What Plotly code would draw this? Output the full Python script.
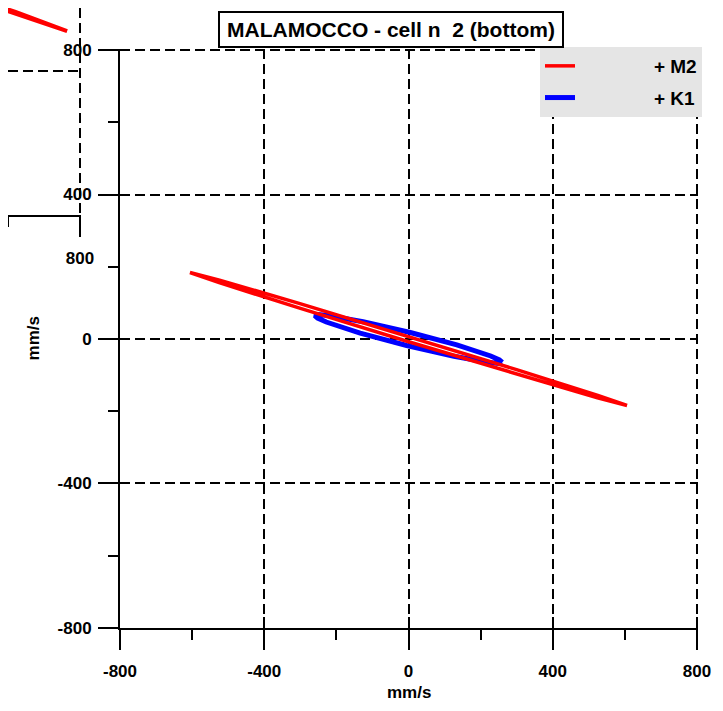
import plotly.graph_objects as go

# ---------------- data (mm/s) ----------------
m2_u = [606, 525, 304, 2, -301, -524, -606, -525, -304, -2, 301, 524, 606]
m2_v = [-184, -156, -86, 7, 98, 163, 184, 156, 86, -7, -98, -163, -184]

k1_u = [260, 252, 228, 134, 5, -126, -223, -250, -260, -252, -228, -134, -5, 126, 223, 250, 260]
k1_v = [-65, -58, -47, -16, 18, 48, 65, 68, 65, 58, 47, 16, -18, -48, -65, -68, -65]

# partially visible neighbouring panel (top-left corner of the picture)
frag_u = [480, 620, 764, 620, 480]
frag_v = [-190, -238, -291, -244, -196]

ticks_major = [-800, -400, 0, 400, 800]
tick_labels = ["-800", "-400", "0", "400", "800"]

title_text = "MALAMOCCO - cell n\u00a0 2 (bottom)"
names = ["+ M2", "+ K1"]
axis_title = "mm/s"

# ---------------- style ----------------
OFF = 8                      # page body margin of the browser
W, H = 723 - OFF, 711 - OFF
SANS = "Liberation Sans, Arial, sans-serif"
tickfont = dict(family=SANS, size=17, color="black", weight="bold")
GRID = dict(showgrid=True, gridcolor="black", gridwidth=2, griddash="10px,5px", zeroline=False)

SX = 577 / 1600.0            # px per unit (x)
SY = 578 / 1600.0            # px per unit (y)
EXT = 4                      # tiny range extension so the edge grid lines are kept

px_l = 120 - OFF
px_r = 697 - OFF + EXT * SX
px_b = 628 - OFF
px_t = 50 - OFF - EXT * SY
xdom = [px_l / W, px_r / W]
ydom = [1 - px_b / H, 1 - px_t / H]
RANGE = [-800, 800 + EXT]

# fragment geometry
f_left_val = 599
f_right_px = (80 - OFF) + EXT * SX
f_xdom = [0, f_right_px / W]
f_xrange = [f_left_val, 800 + EXT]
f_bottom_px = 215 - OFF
f_ydom = [1 - f_bottom_px / H, 1]
f_yrange = [-800, -800 + f_bottom_px / SY]

fig = go.Figure()

fig.add_trace(go.Scatter(x=k1_u, y=k1_v, mode="lines", name="\u00a0" * 14 + names[1],
                         line=dict(color="#0000ff", width=5), legendrank=2,
                         legendgroup="k1"))
fig.add_trace(go.Scatter(x=m2_u, y=m2_v, mode="lines", name="\u00a0" * 14 + names[0],
                         line=dict(color="#ff0000", width=3.5), legendrank=1,
                         legendgroup="m2"))
fig.add_trace(go.Scatter(x=frag_u, y=frag_v, mode="lines", xaxis="x2", yaxis="y2",
                         line=dict(color="#ff0000", width=4), showlegend=False,
                         hoverinfo="skip"))
# helpers for the inner half of the crossing tick marks
fig.add_trace(go.Scatter(x=[], y=[], xaxis="x3", yaxis="y", showlegend=False))
fig.add_trace(go.Scatter(x=[], y=[], xaxis="x", yaxis="y3", showlegend=False))

common_axis = dict(range=RANGE, tickvals=ticks_major, ticktext=tick_labels,
                   ticks="outside", ticklen=20, tickwidth=2, tickcolor="black",
                   showline=True, linewidth=2, linecolor="black",
                   tickfont=tickfont, automargin=False,
                   minor=dict(dtick=200, tick0=0, ticks="outside", ticklen=10,
                              tickwidth=2, tickcolor="black", showgrid=False),
                   **GRID)

inner = dict(range=RANGE, tickvals=ticks_major, ticks="inside", tickwidth=2,
             tickcolor="black", showticklabels=False, showgrid=False,
             showline=False, zeroline=False)

fig.update_layout(
    width=W, height=H,
    margin=dict(l=0, r=0, t=0, b=0),
    paper_bgcolor="white", plot_bgcolor="white",
    xaxis=dict(domain=xdom, anchor="y", ticklabelstandoff=7,
               title=dict(text=axis_title, font=tickfont, standoff=6),
               **common_axis),
    yaxis=dict(domain=ydom, anchor="x", ticklabelstandoff=3,
               title=dict(text=axis_title, font=tickfont, standoff=14),
               **common_axis),
    xaxis3=dict(overlaying="x", anchor="y", ticklen=11, **inner),
    yaxis3=dict(overlaying="y", anchor="x", ticklen=10, **inner),
    xaxis2=dict(domain=f_xdom, anchor="y2", range=f_xrange,
                tickvals=[800], ticktext=["800"], ticks="outside", ticklen=20, tickwidth=2,
                tickcolor="black", showline=True, linewidth=2, linecolor="black",
                tickfont=tickfont, ticklabelstandoff=7, automargin=False,
                minor=dict(dtick=200, tick0=0, ticks="outside", ticklen=10,
                           tickwidth=2, tickcolor="black", showgrid=False),
                **GRID),
    yaxis2=dict(domain=f_ydom, anchor="x2", range=f_yrange,
                tickvals=[-400], ticks="", showticklabels=False, showline=False,
                automargin=False, **GRID),
    legend=dict(x=(540 - OFF) / W, y=1 - (47 - OFF) / H, xanchor="left", yanchor="top",
                bgcolor="#e5e5e5", borderwidth=0, tracegroupgap=4,
                font=dict(family=SANS, size=19, color="black", weight="bold")),
    annotations=[dict(text=title_text, xref="paper", yref="paper",
                      x=(391 - OFF) / W, y=1 - (29.5 - OFF) / H,
                      xanchor="center", yanchor="middle",
                      showarrow=False, width=340, height=31,
                      font=dict(family=SANS, size=21, color="black", weight="bold"),
                      bgcolor="white", bordercolor="black", borderwidth=2, borderpad=1)],
    showlegend=True,
)

fig.write_html("out.html")
